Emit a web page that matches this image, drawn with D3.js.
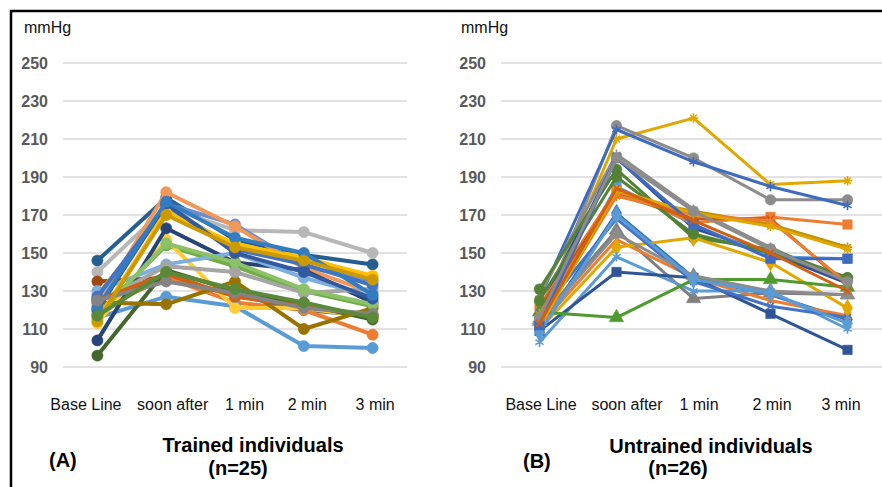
<!DOCTYPE html>
<html>
<head>
<meta charset="utf-8">
<script src="https://cdn.jsdelivr.net/npm/d3@7"></script>
<style>
  body { margin: 0; background: #fff; }
  svg { display: block; font-family: "Liberation Sans", Arial, sans-serif; }
</style>
</head>
<body>
<div id="chart"></div>
<script>
const categories = ["Base Line", "soon after", "1 min", "2 min", "3 min"];
const yTicks = [90, 110, 130, 150, 170, 190, 210, 230, 250];

// (A) trained individuals, one row per person
const trainedColors = [
  "#255E91", "#B7B7B7", "#9E480E", "#FFC000", "#698ED0", "#636363", "#F1975A", "#ED7D31",
  "#70AD47", "#5B9BD5", "#FFCD33", "#264478", "#43682B", "#7CAFDD", "#997300", "#A5A5A5",
  "#4472C4", "#8CC168", "#FFC000", "#335AA1", "#327DC2", "#D26012", "#848484", "#CC9A00", "#5A8A39"
];
const trainedValues = [
  [146, 179, 157, 149, 144],
  [140, 174, 162, 161, 150],
  [135, 137, 128, 121, 117],
  [128, 172, 154, 148, 137],
  [125, 176, 165, 143, 135],
  [126, 136, 128, 120, 117],
  [122, 182, 164, 142, 129],
  [120, 137, 124, 120, 107],
  [118, 154, 143, 130, 122],
  [116, 127, 122, 101, 100],
  [113, 157, 121, 121, 116],
  [104, 163, 145, 141, 124],
  [96, 141, 130, 123, 115],
  [130, 144, 150, 137, 127],
  [124, 123, 135, 110, 121],
  [124, 143, 140, 129, 131],
  [127, 175, 152, 144, 133],
  [117, 155, 145, 131, 123],
  [115, 171, 155, 147, 138],
  [120, 176, 150, 140, 126],
  [121, 177, 158, 150, 128],
  [125, 139, 127, 122, 117],
  [125, 135, 129, 121, 118],
  [114, 170, 153, 146, 136],
  [117, 140, 131, 124, 116]
];

// (B) untrained individuals
const untrainedColors = [
  "#DFA700", "#8C8C8C", "#3E6AC0", "#8C8C8C", "#2F4F9A", "#548235", "#5B9BD5", "#ED7D31",
  "#C55A11", "#BF9000", "#2E75B6", "#7F7F7F", "#ED7D31", "#E0A800", "#5B9BD5", "#2F5597",
  "#4E9A2F", "#548235", "#4472C4", "#ED7D31", "#8C8C8C", "#DFA700", "#5B9BD5", "#3E6AC0",
  "#8C8C8C", "#D26012"
];
const untrainedMarkers = [
  "star", "circle", "asterisk", "asterisk", "x", "circle", "square", "square",
  "x", "star", "diamond", "triangle", "x", "diamond", "asterisk", "square",
  "triangle", "circle", "x", "asterisk", "triangle", "star", "diamond", "square",
  "circle", "x"
];
const untrainedValues = [
  [115, 210, 221, 186, 188],
  [115, 217, 200, 178, 178],
  [126, 215, 198, 185, 175],
  [128, 202, 173, 153, 134],
  [120, 200, 163, 150, 134],
  [131, 194, 158, 152, 137],
  [112, 185, 165, 148, 147],
  [122, 183, 166, 169, 165],
  [121, 181, 168, 168, 133],
  [113, 180, 172, 165, 153],
  [110, 171, 137, 128, 115],
  [115, 162, 126, 129, 128],
  [112, 157, 137, 125, 117],
  [110, 153, 158, 145, 121],
  [103, 148, 130, 130, 110],
  [109, 140, 137, 118, 99],
  [119, 116, 136, 136, 132],
  [125, 190, 160, 150, 137],
  [118, 168, 135, 122, 116],
  [118, 180, 170, 167, 134],
  [114, 160, 138, 130, 128],
  [111, 183, 171, 164, 152],
  [108, 170, 136, 129, 113],
  [112, 200, 165, 147, 147],
  [116, 200, 172, 152, 135],
  [113, 184, 167, 150, 130]
];

const W = 882, H = 487;
const svg = d3.select("#chart").append("svg").attr("width", W).attr("height", H);

// stroke-only marker shapes
const lineSymbol = (angles) => ({
  draw(ctx, size) {
    const r = Math.sqrt(size) / 2;
    angles.forEach(a => {
      const dx = r * Math.cos(a), dy = r * Math.sin(a);
      ctx.moveTo(-dx, -dy);
      ctx.lineTo(dx, dy);
    });
  }
});
const symbolTypes = {
  circle: d3.symbolCircle,
  square: d3.symbolSquare,
  triangle: d3.symbolTriangle,
  diamond: d3.symbolDiamond,
  x: lineSymbol([Math.PI / 4, -Math.PI / 4]),
  asterisk: lineSymbol([Math.PI / 2, Math.PI / 6, -Math.PI / 6]),
  star: lineSymbol([Math.PI / 2, 0, Math.PI / 4, -Math.PI / 4])
};
const strokeOnly = new Set(["x", "asterisk", "star"]);

function drawPanel(opt) {
  const g = svg.append("g");
  const x = d3.scalePoint().domain(categories).range(opt.xRange).padding(0.5);
  const y = d3.scaleLinear().domain([90, 250]).range([367, 63]);

  g.append("g")
    .selectAll("line")
    .data(yTicks)
    .join("line")
    .attr("x1", opt.gridX[0])
    .attr("x2", opt.gridX[1])
    .attr("y1", d => y(d))
    .attr("y2", d => y(d))
    .attr("stroke", "#d9d9d9")
    .attr("stroke-width", 1.5);

  const yAxis = g.append("g")
    .attr("transform", `translate(${opt.yLabelX},0)`)
    .call(d3.axisLeft(y).tickValues(yTicks).tickSize(0).tickPadding(0));
  yAxis.select(".domain").remove();
  yAxis.selectAll(".tick text")
    .style("font-family", "'Liberation Sans', Arial, sans-serif")
    .style("font-size", "16px")
    .style("font-weight", "bold")
    .attr("fill", "#595959");

  const xAxis = g.append("g")
    .attr("transform", "translate(0,395)")
    .call(d3.axisBottom(x).tickSize(0).tickPadding(0));
  xAxis.select(".domain").remove();
  xAxis.selectAll(".tick text")
    .style("font-family", "'Liberation Sans', Arial, sans-serif")
    .style("font-size", "16px")
    .attr("fill", "#111")
    .attr("dx", (d, i) => opt.labelDx[i])
    .attr("dy", "0.95em");

  g.append("text")
    .attr("x", opt.unitX)
    .attr("y", 33)
    .style("font-size", "16px")
    .attr("fill", "#111")
    .text("mmHg");

  const line = d3.line().x((d, i) => x(categories[i])).y(d => y(d));

  opt.values.forEach((vals, k) => {
    const color = opt.colors[k];
    g.append("path")
      .datum(vals)
      .attr("d", line)
      .attr("fill", "none")
      .attr("stroke", color)
      .attr("stroke-width", opt.lineWidth)
      .attr("stroke-linejoin", "round");

    const kind = opt.markers ? opt.markers[k] : "circle";
    const sym = d3.symbol().type(symbolTypes[kind]).size(opt.markerSize);
    g.append("g")
      .selectAll("path")
      .data(vals)
      .join("path")
      .attr("transform", (d, i) => `translate(${x(categories[i])},${y(d)})`)
      .attr("d", sym)
      .attr("fill", strokeOnly.has(kind) ? "none" : color)
      .attr("stroke", color)
      .attr("stroke-width", strokeOnly.has(kind) ? 1.6 : 0.5);
  });

  g.append("text")
    .attr("x", opt.tagX)
    .attr("y", opt.tagY)
    .style("font-size", "20px")
    .style("font-weight", "bold")
    .attr("fill", "#000")
    .text(opt.tag);

  g.append("text")
    .attr("x", opt.titleX)
    .attr("y", opt.titleY)
    .attr("text-anchor", "middle")
    .style("font-size", "20px")
    .style("font-weight", "bold")
    .attr("fill", "#000")
    .text(opt.title);

  g.append("text")
    .attr("x", opt.subX)
    .attr("y", 475)
    .attr("text-anchor", "middle")
    .style("font-size", "20px")
    .style("font-weight", "bold")
    .attr("fill", "#000")
    .text(opt.sub);
}

drawPanel({
  xRange: [63, 407], gridX: [63, 407], yLabelX: 48, unitX: 24,
  labelDx: [-12, 6, 9, 3, 2],
  values: trainedValues, colors: trainedColors, markers: null,
  lineWidth: 4, markerSize: 100,
  tag: "(A)", tagX: 49, tagY: 467,
  title: "Trained individuals", titleX: 253, titleY: 452,
  sub: "(n=25)", subX: 238
});

drawPanel({
  xRange: [501, 886], gridX: [501, 882], yLabelX: 486, unitX: 461,
  labelDx: [1, 10, 5, 1, -7],
  values: untrainedValues, colors: untrainedColors, markers: untrainedMarkers,
  lineWidth: 3, markerSize: 90,
  tag: "(B)", tagX: 523, tagY: 468,
  title: "Untrained individuals", titleX: 711, titleY: 453,
  sub: "(n=26)", subX: 678
});

// outer frame
svg.append("rect")
  .attr("x", 11)
  .attr("y", 11)
  .attr("width", 900)
  .attr("height", 500)
  .attr("fill", "none")
  .attr("stroke", "#000")
  .attr("stroke-width", 2.5);
</script>
</body>
</html>
